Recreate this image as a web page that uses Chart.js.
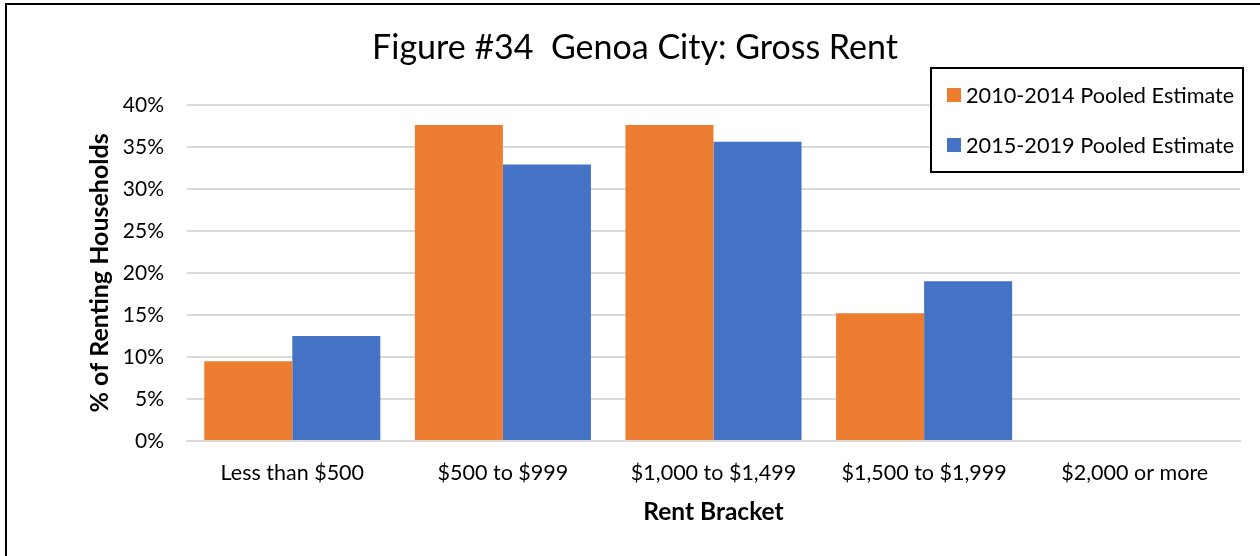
<!DOCTYPE html>
<html lang="en">
<head>
    <meta charset="UTF-8">
    <title>Genoa City: Gross Rent</title>
    <script src="https://cdn.jsdelivr.net/npm/chart.js"></script>
    <style>
        body {
            margin: 0;
            background: #fff;
        }
        .wrap {
            position: relative;
            width: 1260px;
            height: 556px;
            overflow: hidden;
        }
        .frame {
            position: absolute;
            left: 5px;
            top: 3px;
            width: 1400px;
            height: 700px;
            border-left: 2px solid #000;
            border-top: 2px solid #000;
            pointer-events: none;
        }
    </style>
</head>
<body>
    <div class="wrap">
        <canvas id="rentChart" width="1260" height="556"></canvas>
        <div class="frame"></div>
    </div>

    <script>
        const brackets = ['Less than $500', '$500 to $999', '$1,000 to $1,499', '$1,500 to $1,999', '$2,000 or more'];
        const pooled2010 = [9.5, 37.6, 37.6, 15.2, 0];
        const pooled2015 = [12.5, 32.9, 35.6, 19.0, 0];
        const seriesNames = ['2010-2014 Pooled Estimate', '2015-2019 Pooled Estimate'];
        const yTicks = [0, 5, 10, 15, 20, 25, 30, 35, 40];

        const FONT = 'Lato, sans-serif';

        // boxed legend in the top right corner
        const boxLegend = {
            id: 'boxLegend',
            afterDraw(chart) {
                const ctx = chart.ctx;
                const right = chart.width - 17;
                const left = 931, top = 68, bottom = 172;
                ctx.save();
                ctx.fillStyle = '#fff';
                ctx.fillRect(left, top, right - left, bottom - top);
                ctx.lineWidth = 2;
                ctx.strokeStyle = '#000';
                ctx.strokeRect(left, top, right - left, bottom - top);
                ctx.font = '21.7px ' + FONT;
                ctx.textBaseline = 'middle';
                ctx.textAlign = 'left';
                chart.data.datasets.forEach((ds, i) => {
                    const y = 95 + i * 50;
                    ctx.fillStyle = ds.backgroundColor;
                    ctx.fillRect(947, y - 7, 14, 14);
                    ctx.fillStyle = '#000';
                    ctx.fillText(ds.label, 966, y + 1);
                });
                ctx.restore();
            }
        };

        new Chart(document.getElementById('rentChart'), {
            type: 'bar',
            data: {
                labels: brackets,
                datasets: [
                    {
                        label: seriesNames[0],
                        data: pooled2010,
                        backgroundColor: '#ED7D31',
                        categoryPercentage: 0.836,
                        barPercentage: 1.0
                    },
                    {
                        label: seriesNames[1],
                        data: pooled2015,
                        backgroundColor: '#4472C4',
                        categoryPercentage: 0.836,
                        barPercentage: 1.0
                    }
                ]
            },
            options: {
                responsive: false,
                animation: false,
                layout: {
                    padding: { left: 30, right: 20, top: 0, bottom: 0 }
                },
                plugins: {
                    legend: { display: false },
                    tooltip: { enabled: false },
                    title: {
                        display: true,
                        text: 'Figure #34  Genoa City: Gross Rent',
                        color: '#000',
                        font: { family: FONT, size: 34, weight: 'normal' },
                        padding: { top: 28, bottom: 36 }
                    }
                },
                scales: {
                    x: {
                        grid: { display: false, drawTicks: false },
                        border: { display: true, color: '#d9d9d9', width: 2 },
                        ticks: {
                            color: '#000',
                            padding: 19,
                            maxRotation: 0,
                            font: { family: FONT, size: 21.5 }
                        },
                        title: {
                            display: true,
                            text: 'Rent Bracket',
                            color: '#000',
                            font: { family: FONT, size: 24.5, weight: 'bold' },
                            padding: { top: 0, bottom: 29 }
                        },
                        afterFit(scale) { scale.height = 115; }
                    },
                    y: {
                        min: 0,
                        max: 40,
                        afterBuildTicks(scale) {
                            scale.ticks = yTicks.map(v => ({ value: v }));
                        },
                        grid: { color: '#d9d9d9', lineWidth: 2, drawTicks: false },
                        border: { display: false },
                        ticks: {
                            color: '#000',
                            padding: 23,
                            font: { family: FONT, size: 21 },
                            callback: v => v + '%'
                        },
                        title: {
                            display: true,
                            text: '% of Renting Households',
                            color: '#000',
                            font: { family: FONT, size: 25, weight: 'bold' },
                            padding: { top: 55, bottom: 0 }
                        },
                        afterFit(scale) { scale.width = 157; }
                    }
                }
            },
            plugins: [boxLegend]
        });
    </script>
</body>
</html>
